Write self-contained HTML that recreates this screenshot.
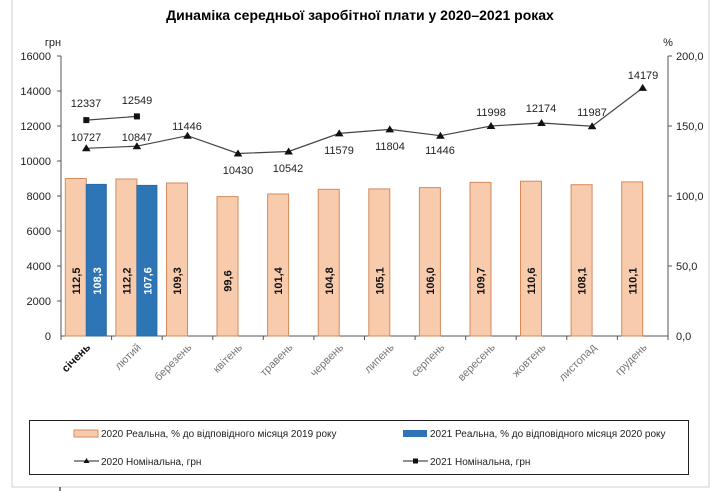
<!DOCTYPE html>
<html><head><meta charset="utf-8"><style>
body{margin:0;background:#fff;}
svg{display:block;font-family:"Liberation Sans",sans-serif;}
</style></head><body>
<svg width="720" height="491" viewBox="0 0 720 491">
<rect x="12" y="-2" width="697" height="489" fill="none" stroke="#d0d0d0" stroke-width="1"/>
<text x="360" y="20" text-anchor="middle" font-size="14" font-weight="bold" fill="#000">Динаміка середньої заробітної плати у 2020–2021 роках</text>
<text x="53" y="46" text-anchor="middle" font-size="11" fill="#222">грн</text>
<text x="668" y="46" text-anchor="middle" font-size="11" fill="#222">%</text>
<g font-size="11" fill="#222" text-anchor="end">
<text x="51" y="60">16000</text><text x="51" y="95">14000</text><text x="51" y="130">12000</text><text x="51" y="165">10000</text><text x="51" y="200">8000</text><text x="51" y="235">6000</text><text x="51" y="270">4000</text><text x="51" y="305">2000</text><text x="51" y="340">0</text>
</g>
<g font-size="11" fill="#222">
<text x="676" y="60">200,0</text><text x="676" y="130">150,0</text><text x="676" y="200">100,0</text><text x="676" y="270">50,0</text><text x="676" y="340">0,0</text>
</g>
<g stroke="#555" stroke-width="1">
<line x1="61" y1="56" x2="61" y2="336"/>
<line x1="668" y1="56" x2="668" y2="336"/>
<line x1="61" y1="336" x2="668" y2="336"/>
<line x1="57" y1="56" x2="61" y2="56"/><line x1="57" y1="91" x2="61" y2="91"/><line x1="57" y1="126" x2="61" y2="126"/><line x1="57" y1="161" x2="61" y2="161"/><line x1="57" y1="196" x2="61" y2="196"/><line x1="57" y1="231" x2="61" y2="231"/><line x1="57" y1="266" x2="61" y2="266"/><line x1="57" y1="301" x2="61" y2="301"/>
<line x1="668" y1="56" x2="672" y2="56"/><line x1="668" y1="126" x2="672" y2="126"/><line x1="668" y1="196" x2="672" y2="196"/><line x1="668" y1="266" x2="672" y2="266"/>
<line x1="61.0" y1="336" x2="61.0" y2="340"/><line x1="111.6" y1="336" x2="111.6" y2="340"/><line x1="162.2" y1="336" x2="162.2" y2="340"/><line x1="212.8" y1="336" x2="212.8" y2="340"/><line x1="263.3" y1="336" x2="263.3" y2="340"/><line x1="313.9" y1="336" x2="313.9" y2="340"/><line x1="364.5" y1="336" x2="364.5" y2="340"/><line x1="415.1" y1="336" x2="415.1" y2="340"/><line x1="465.7" y1="336" x2="465.7" y2="340"/><line x1="516.2" y1="336" x2="516.2" y2="340"/><line x1="566.8" y1="336" x2="566.8" y2="340"/><line x1="617.4" y1="336" x2="617.4" y2="340"/><line x1="668" y1="336" x2="668" y2="340"/>
</g>
<g fill="#f8cbad" stroke="#d38b5d" stroke-width="1">
<rect x="65.3" y="178.5" width="21" height="157.5"/>
<rect x="115.9" y="179" width="21" height="157"/>
<rect x="166.5" y="183" width="21" height="153"/>
<rect x="217" y="196.6" width="21" height="139.4"/>
<rect x="267.6" y="194" width="21" height="142"/>
<rect x="318.2" y="189.3" width="21" height="146.7"/>
<rect x="368.8" y="188.9" width="21" height="147.1"/>
<rect x="419.4" y="187.6" width="21" height="148.4"/>
<rect x="470" y="182.4" width="21" height="153.6"/>
<rect x="520.5" y="181.2" width="21" height="154.8"/>
<rect x="571.1" y="184.7" width="21" height="151.3"/>
<rect x="621.7" y="181.9" width="21" height="154.1"/>
</g>
<g fill="#2e75b6" stroke="#2a6aa6" stroke-width="1">
<rect x="86.3" y="184.4" width="20" height="151.6"/>
<rect x="136.9" y="185.4" width="20" height="150.6"/>
</g>
<g font-size="11" font-weight="bold" fill="#111" text-anchor="middle">
<text transform="translate(80,281) rotate(-90)">112,5</text>
<text transform="translate(101,281) rotate(-90)" fill="#fff">108,3</text>
<text transform="translate(130.6,281) rotate(-90)">112,2</text>
<text transform="translate(151.6,281) rotate(-90)" fill="#fff">107,6</text>
<text transform="translate(181,281) rotate(-90)">109,3</text>
<text transform="translate(231.6,281) rotate(-90)">99,6</text>
<text transform="translate(282.2,281) rotate(-90)">101,4</text>
<text transform="translate(332.8,281) rotate(-90)">104,8</text>
<text transform="translate(383.4,281) rotate(-90)">105,1</text>
<text transform="translate(434,281) rotate(-90)">106,0</text>
<text transform="translate(484.5,281) rotate(-90)">109,7</text>
<text transform="translate(535.1,281) rotate(-90)">110,6</text>
<text transform="translate(585.7,281) rotate(-90)">108,1</text>
<text transform="translate(636.3,281) rotate(-90)">110,1</text>
</g>
<polyline fill="none" stroke="#444" stroke-width="1.2" points="86.3,148.3 136.9,146.2 187.5,135.7 238,153.5 288.6,151.5 339.2,133.4 389.8,129.4 440.4,135.7 491,126 541.5,123 592.1,126.2 642.7,87.9"/>
<g fill="#111">
<polygon points="86.3,144.3 82,151.3 90.6,151.3"/><polygon points="136.9,142.2 132.6,149.2 141.2,149.2"/><polygon points="187.5,131.7 183.2,138.7 191.8,138.7"/><polygon points="238,149.5 233.7,156.5 242.3,156.5"/><polygon points="288.6,147.5 284.3,154.5 292.9,154.5"/><polygon points="339.2,129.4 334.9,136.4 343.5,136.4"/><polygon points="389.8,125.4 385.5,132.4 394.1,132.4"/><polygon points="440.4,131.7 436.1,138.7 444.7,138.7"/><polygon points="491,122 486.7,129 495.3,129"/><polygon points="541.5,119 537.2,126 545.8,126"/><polygon points="592.1,122.2 587.8,129.2 596.4,129.2"/><polygon points="642.7,83.9 638.4,90.9 647,90.9"/>
</g>
<polyline fill="none" stroke="#444" stroke-width="1.2" points="86.3,120.1 136.9,116.4"/>
<rect x="83.3" y="117.1" width="6" height="6" fill="#111"/><rect x="133.9" y="113.4" width="6" height="6" fill="#111"/>
<g font-size="11" fill="#222" text-anchor="middle">
<text x="86" y="107">12337</text><text x="137" y="104">12549</text>
<text x="86" y="141">10727</text><text x="137" y="141">10847</text><text x="187" y="130">11446</text>
<text x="238" y="174">10430</text><text x="288" y="172">10542</text><text x="339" y="154">11579</text><text x="390" y="150">11804</text><text x="440" y="154">11446</text>
<text x="491" y="116">11998</text><text x="541" y="112">12174</text><text x="592" y="116">11987</text><text x="643" y="79">14179</text>
</g>
<g font-size="11" fill="#777" text-anchor="end">
<text transform="translate(91,348) rotate(-45)" fill="#111" font-weight="bold">січень</text>
<text transform="translate(141.6,348) rotate(-45)">лютий</text>
<text transform="translate(192.2,348) rotate(-45)">березень</text>
<text transform="translate(242.8,348) rotate(-45)">квітень</text>
<text transform="translate(293.4,348) rotate(-45)">травень</text>
<text transform="translate(344,348) rotate(-45)">червень</text>
<text transform="translate(394.5,348) rotate(-45)">липень</text>
<text transform="translate(445.1,348) rotate(-45)">серпень</text>
<text transform="translate(495.7,348) rotate(-45)">вересень</text>
<text transform="translate(546.3,348) rotate(-45)">жовтень</text>
<text transform="translate(596.9,348) rotate(-45)">листопад</text>
<text transform="translate(647.5,348) rotate(-45)">грудень</text>
</g>
<rect x="29.5" y="420.5" width="659" height="54" fill="none" stroke="#222" stroke-width="1"/>
<rect x="74" y="430" width="24" height="7" fill="#f8cbad" stroke="#d38b5d"/>
<rect x="403" y="430" width="24" height="7" fill="#2e75b6"/>
<line x1="74" y1="461" x2="99" y2="461" stroke="#222"/><polygon points="86.5,458 83.5,463 89.5,463" fill="#111"/>
<line x1="403" y1="461" x2="428" y2="461" stroke="#222"/><rect x="413" y="458.5" width="5" height="5" fill="#111"/>
<g font-size="10" fill="#222">
<text x="101" y="437">2020 Реальна, % до відповідного місяця 2019 року</text>
<text x="430" y="437">2021 Реальна, % до відповідного місяця 2020 року</text>
<text x="101" y="465">2020 Номінальна, грн</text>
<text x="430" y="465">2021 Номінальна, грн</text>
</g>
<line x1="60" y1="487" x2="60" y2="491" stroke="#000"/>
</svg>
</body></html>
